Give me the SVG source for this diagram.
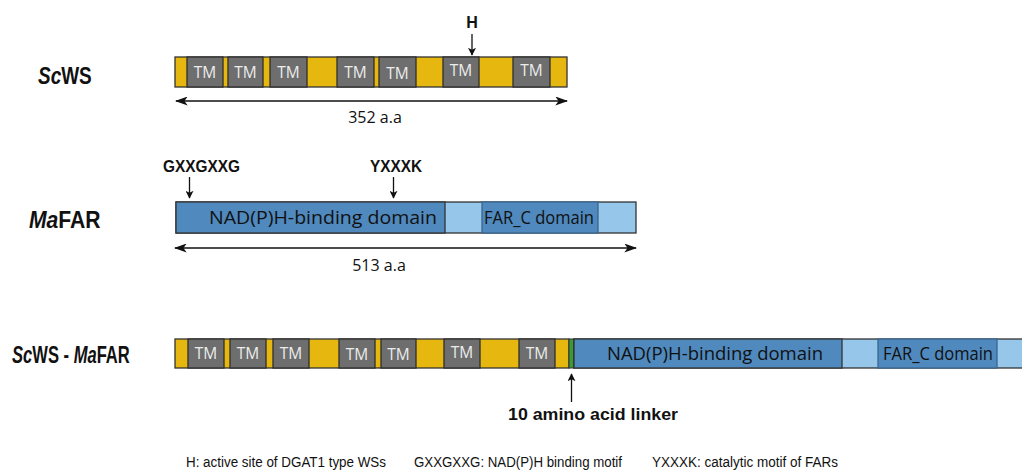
<svg xmlns="http://www.w3.org/2000/svg" width="1022" height="475" viewBox="0 0 1022 475">
  <style>
    .ws { fill: #e6b70f; stroke: #333; stroke-width: 1.3; }
    .tm { fill: #6e6e6e; stroke: #2e2e2e; stroke-width: 1.3; }
    .tmt { font-family: "Open Sans", "Liberation Sans", sans-serif; font-size: 15.5px; fill: #ececec; text-anchor: middle; }
    .nad { fill: #4f89bd; stroke: #333; stroke-width: 1.3; }
    .lt { fill: #96c6ea; stroke: #333; stroke-width: 1.3; }
    .far { fill: #4f89bd; stroke: #3a6690; stroke-width: 1.3; }
    .dom { font-family: "Open Sans", "Liberation Sans", sans-serif; font-size: 17.5px; fill: #111; }
    .name { font-family: "Liberation Sans", sans-serif; font-size: 24px; font-weight: bold; fill: #111; }
    .it { font-style: italic; }
    .motif { font-family: "Liberation Sans", sans-serif; font-size: 16px; font-weight: bold; fill: #111; text-anchor: middle; }
    .len { font-family: "Open Sans", "Liberation Sans", sans-serif; font-size: 16px; fill: #111; text-anchor: middle; }
    .legend { font-family: "Liberation Sans", sans-serif; font-size: 14px; fill: #111; }
    .line { stroke: #111; stroke-width: 1.3; fill: none; }
  </style>
  <defs>
    <marker id="head" viewBox="0 0 10 10" refX="9" refY="5" markerWidth="8" markerHeight="8" markerUnits="userSpaceOnUse" orient="auto-start-reverse">
      <path d="M0,0 L10,5 L0,10 L2.5,5 Z" fill="#111"/>
    </marker>
    <marker id="big" viewBox="0 0 10 10" refX="9" refY="5" markerWidth="13" markerHeight="9" markerUnits="userSpaceOnUse" orient="auto-start-reverse" preserveAspectRatio="none">
      <path d="M0,0 L10,5 L0,10 L2.5,5 Z" fill="#111"/>
    </marker>
  </defs>

  <!-- ScWS: wax ester synthase with seven transmembrane segments -->
  <g id="scws">
    <text class="name" transform="translate(38,84) scale(0.79,1)"><tspan class="it">Sc</tspan>WS</text>
    <rect class="ws" x="175" y="57" width="392" height="30"/>
    <rect class="tm" x="187" y="57" width="36" height="30"/>
    <rect class="tm" x="228" y="57" width="35" height="30"/>
    <rect class="tm" x="270" y="57" width="37" height="30"/>
    <rect class="tm" x="337" y="57" width="37" height="30"/>
    <rect class="tm" x="379" y="57" width="37" height="30"/>
    <rect class="tm" x="443" y="57" width="36" height="30"/>
    <rect class="tm" x="513" y="57" width="37" height="30"/>
    <text class="tmt" x="205" y="78">TM</text>
    <text class="tmt" x="245.5" y="78">TM</text>
    <text class="tmt" x="288.5" y="78">TM</text>
    <text class="tmt" x="355.5" y="78">TM</text>
    <text class="tmt" x="397.5" y="79">TM</text>
    <text class="tmt" x="461" y="76">TM</text>
    <text class="tmt" x="531.5" y="76">TM</text>
    <text class="motif" x="472" y="28">H</text>
    <text class="len" x="375" y="123">352 a.a</text>
  </g>

  <!-- MaFAR: fatty acyl-CoA reductase -->
  <g id="mafar">
    <text class="name" transform="translate(29,228) scale(0.88,1)"><tspan class="it">Ma</tspan>FAR</text>
    <rect class="lt" x="176" y="202" width="460" height="31"/>
    <rect class="nad" x="176" y="202" width="269" height="31"/>
    <rect class="far" x="482" y="202" width="116" height="31"/>
    <text class="dom" x="209" y="224" textLength="228" lengthAdjust="spacingAndGlyphs">NAD(P)H-binding domain</text>
    <text class="dom" x="484" y="224" textLength="110" lengthAdjust="spacingAndGlyphs">FAR_C domain</text>
    <text class="motif" x="201.5" y="172" textLength="77" lengthAdjust="spacingAndGlyphs">GXXGXXG</text>
    <text class="motif" x="396" y="172" textLength="52" lengthAdjust="spacingAndGlyphs">YXXXK</text>
    <text class="len" x="379" y="271">513 a.a</text>
  </g>

  <!-- ScWS-MaFAR fusion joined by a 10 residue linker -->
  <g id="fusion">
    <text class="name" transform="translate(12,363) scale(0.69,1)"><tspan class="it">Sc</tspan>WS - <tspan class="it">Ma</tspan>FAR</text>
    <rect class="ws" x="175" y="339" width="394" height="29"/>
    <rect class="tm" x="188" y="339" width="36" height="29"/>
    <rect class="tm" x="230" y="339" width="36" height="29"/>
    <rect class="tm" x="273" y="339" width="36" height="29"/>
    <rect class="tm" x="339" y="339" width="36" height="29"/>
    <rect class="tm" x="381" y="339" width="35" height="29"/>
    <rect class="tm" x="444" y="339" width="36" height="29"/>
    <rect class="tm" x="519" y="339" width="36" height="29"/>
    <text class="tmt" x="206" y="359">TM</text>
    <text class="tmt" x="248" y="359">TM</text>
    <text class="tmt" x="291" y="359">TM</text>
    <text class="tmt" x="357" y="360">TM</text>
    <text class="tmt" x="398.5" y="360">TM</text>
    <text class="tmt" x="462" y="358">TM</text>
    <text class="tmt" x="537" y="359">TM</text>
    <rect x="569" y="339" width="5" height="29" fill="#3a9a35" stroke="#333" stroke-width="1"/>
    <rect class="lt" x="574" y="339" width="452" height="29"/>
    <rect class="nad" x="574" y="339" width="268" height="29"/>
    <rect class="far" x="878" y="339" width="119" height="29"/>
    <text class="dom" x="607" y="360" textLength="216" lengthAdjust="spacingAndGlyphs">NAD(P)H-binding domain</text>
    <text class="dom" x="883" y="360" textLength="110" lengthAdjust="spacingAndGlyphs">FAR_C domain</text>
    <text class="motif" x="593" y="420" font-size="18" textLength="170" lengthAdjust="spacingAndGlyphs">10 amino acid linker</text>
  </g>

  <!-- pointers and length scales -->
  <g id="connectors">
    <line class="line" x1="472" y1="34" x2="472" y2="55" marker-end="url(#head)"/>
    <line class="line" x1="189.5" y1="177" x2="189.5" y2="198" marker-end="url(#head)"/>
    <line class="line" x1="393.5" y1="177" x2="393.5" y2="198" marker-end="url(#head)"/>
    <line class="line" x1="571.5" y1="402" x2="571.5" y2="374" marker-end="url(#head)"/>
    <line class="line" x1="176" y1="101" x2="567" y2="101" marker-start="url(#big)" marker-end="url(#big)"/>
    <line class="line" x1="175" y1="248" x2="636" y2="248" marker-start="url(#big)" marker-end="url(#big)"/>
  </g>

  <!-- key -->
  <g id="legend">
    <text class="legend" x="186" y="467" textLength="200" lengthAdjust="spacingAndGlyphs">H: active site of DGAT1 type WSs</text>
    <text class="legend" x="414" y="467" textLength="208" lengthAdjust="spacingAndGlyphs">GXXGXXG: NAD(P)H binding motif</text>
    <text class="legend" x="652" y="467" textLength="186" lengthAdjust="spacingAndGlyphs">YXXXK: catalytic motif of FARs</text>
  </g>
</svg>
